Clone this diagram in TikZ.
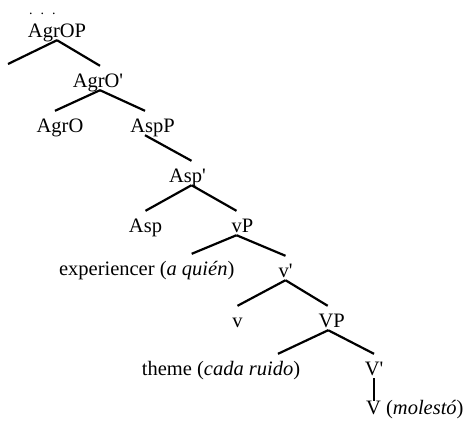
\documentclass[tikz,border=0pt]{standalone}
\usepackage{fontspec}
\setmainfont{Liberation Serif}
\usetikzlibrary{calc}

\begin{document}
\begin{tikzpicture}[x=1bp, y=-1bp,
  syn/.style={inner sep=0pt, anchor=base, text height=21bp, text depth=3bp,
    font=\fontsize{20.5bp}{24bp}\selectfont},
  branch/.style={line width=2.2bp}]
\useasboundingbox (0,0) rectangle (468,427);
% Tree labels
\node[syn, text height=3bp, text depth=0pt, font=\fontsize{14bp}{16bp}\selectfont]
  (dots) at (42.3,14) {.\hspace{8bp}.\hspace{8bp}.};
\node[syn] (agrop) at (57,37) {AgrOP};
\node[syn] (agrobar) at (98,87) {AgrO\textquotesingle};
\node[syn] (agro) at (60,132) {AgrO};
\node[syn] (aspp) at (152.5,132) {AspP};
\node[syn] (aspbar) at (187.5,182) {Asp\textquotesingle};
\node[syn] (asp) at (145.5,232) {Asp};
\node[syn] (vp) at (242.5,232) {vP};
\node[syn] (experiencer) at (146.7,275) {experiencer (\textit{a quién})};
\node[syn] (vbar) at (285.5,277) {v\textquotesingle};
\node[syn] (littlev) at (237.5,327) {v};
\node[syn] (bigvp) at (331.7,327) {VP};
\node[syn] (theme) at (221,375) {theme (\textit{cada ruido})};
\node[syn] (bigvbar) at (374,375) {V\textquotesingle};
\node[syn, anchor=base west] (bigv) at (366,414) {V (\textit{molestó})};
\coordinate (agropspec) at (8,64);

% Branches
\draw[branch] (agrop.south) -- (agropspec);
\draw[branch] (agrop.south) -- ([xshift=2bp]agrobar.north);
\draw[branch] ([xshift=2bp]agrobar.south) -- ([xshift=-5bp]agro.north);
\draw[branch] ([xshift=2bp]agrobar.south) -- ([xshift=-7.5bp]aspp.north);
\draw[branch] ([xshift=-7.5bp]aspp.south) -- ([xshift=4bp]aspbar.north);
\draw[branch] ([xshift=4bp]aspbar.south) -- (asp.north);
\draw[branch] ([xshift=4bp]aspbar.south) -- ([xshift=-6bp]vp.north);
\draw[branch] ([xshift=-6bp]vp.south) -- ([xshift=45bp]experiencer.north);
\draw[branch] ([xshift=-6bp]vp.south) -- (vbar.north);
\draw[branch] (vbar.south) -- (littlev.north);
\draw[branch] (vbar.south) -- ([xshift=-4bp]bigvp.north);
\draw[branch] ([xshift=-3.5bp]bigvp.south) -- ([xshift=57bp]theme.north);
\draw[branch] ([xshift=-3.5bp]bigvp.south) -- (bigvbar.north);
\draw[branch] (bigvbar.south) -- ($(bigvbar.south |- bigv.north)+(0,8)$);
\end{tikzpicture}
\end{document}
